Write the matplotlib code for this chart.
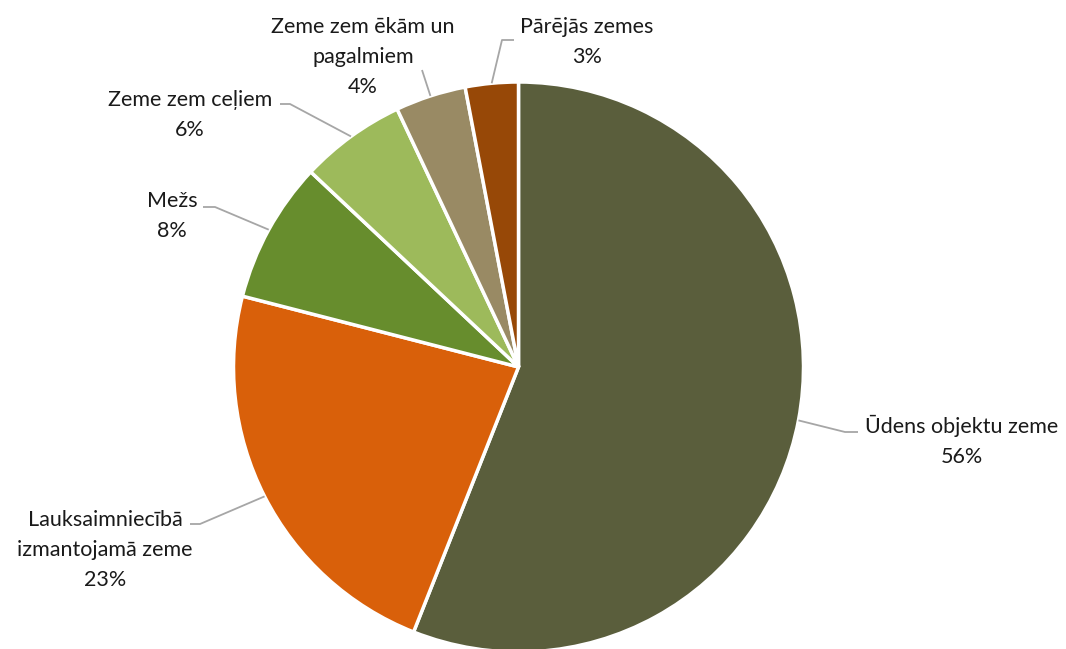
import numpy as np
import matplotlib
matplotlib.use("Agg")
import matplotlib.pyplot as plt

# data
categories = ["Ūdens objektu zeme", "Lauksaimniecībā\nizmantojamā zeme", "Mežs",
              "Zeme zem ceļiem", "Zeme zem ēkām un\npagalmiem", "Pārējās zemes"]
shares = [56, 23, 8, 6, 4, 3]
colors = ["#5A5E3C", "#D9600A", "#678D2D", "#9DBA5B", "#998A64", "#974807"]

# label layout in pixel coords (block centre) and leader elbow points
label_pos = [(962, 441), (105, 550), (172, 216), (190, 115), (363, 57), (587, 42)]
elbows = [[(845, 432), (858, 432)], [(200, 524), (190, 524)], [(215, 207), (203, 207)],
          [(290, 104), (280, 104)], [(422, 70)], [(502, 40), (514, 40)]]

W, H = 1066, 649
fig = plt.figure(figsize=(W / 100, H / 100), dpi=100)
ax = fig.add_axes([0, 0, 1, 1])

cx, cy, r = 518.5, H - 367, 285
wedges, _ = ax.pie(shares, colors=colors, startangle=90, counterclock=False,
                   center=(cx, cy), radius=r, frame=True,
                   wedgeprops=dict(edgecolor="white", linewidth=2.5))
ax.set_xlim(0, W)
ax.set_ylim(0, H)
ax.set_aspect("equal")
ax.axis("off")

for w, cat, s, (lx, ly), el in zip(wedges, categories, shares, label_pos, elbows):
    mid = np.deg2rad((w.theta1 + w.theta2) / 2)
    ex, ey = cx + r * np.cos(mid), cy + r * np.sin(mid)
    xs = [ex] + [p[0] for p in el]
    ys = [ey] + [H - p[1] for p in el]
    ax.plot(xs, ys, color="#A6A6A6", lw=1.3, solid_capstyle="butt")
    ax.text(lx, H - ly, f"{cat}\n{s}%", ha="center", va="center",
            fontsize=15.5, family="Lato", color="#1A1A1A", linespacing=1.6)

fig.savefig("out.png", dpi=100)
